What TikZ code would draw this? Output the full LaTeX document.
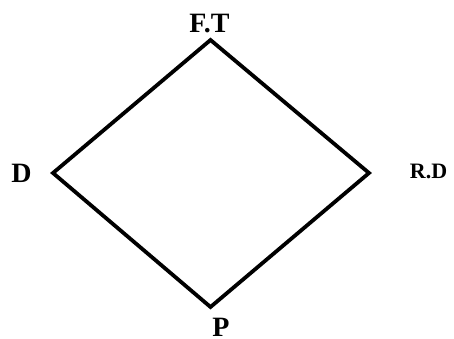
\documentclass[tikz,border=0pt]{standalone}
\usepackage{fontspec}
\setmainfont{Liberation Serif}
\begin{document}
\begin{tikzpicture}[x=1pt,y=-1pt,
  lbl/.style={anchor=base,inner sep=0pt,font=\bfseries\fontsize{28}{30}\selectfont},
  lbls/.style={anchor=base,inner sep=0pt,font=\bfseries\fontsize{22}{24}\selectfont},
  edge/.style={line width=3.8pt,line join=miter}]
\useasboundingbox (0,0) rectangle (454,339);
\coordinate (t) at (210.5,40);
\coordinate (l) at (53,173);
\coordinate (r) at (369,173);
\coordinate (b) at (210.5,307);
\draw[edge] (t) -- (r) -- (b) -- (l) -- cycle;
\node[lbl] (ft) at (209.5,33) {F.T};
\node[lbl] (d) at (21.5,182) {D};
\node[lbls] (rd) at (428.5,178) {R.D};
\node[lbl] (p) at (221,336) {P};
\end{tikzpicture}
\end{document}
